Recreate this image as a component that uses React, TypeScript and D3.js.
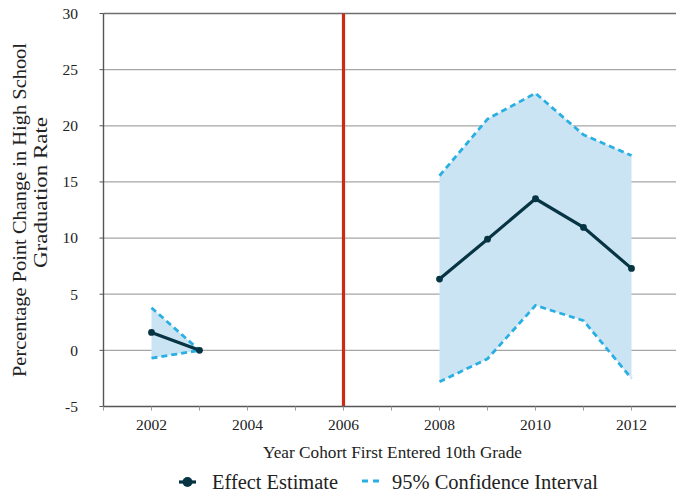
import React from "react";
import * as d3 from "d3";

const years = [2002, 2003, 2008, 2009, 2010, 2011, 2012];
const effect = [1.6, 0.0, 6.35, 9.9, 13.5, 10.95, 7.3];
const upperCI = [3.8, 0.0, 15.55, 20.6, 22.9, 19.2, 17.35];
const lowerCI = [-0.7, 0.0, -2.8, -0.75, 4.0, 2.65, -2.5];
const yTicks = [-5, 0, 5, 10, 15, 20, 25, 30];
const xLabelYears = [2002, 2004, 2006, 2008, 2010, 2012];
const xMinorYears = [2001, 2002, 2003, 2004, 2005, 2006, 2007, 2008, 2009, 2010, 2011, 2012, 2013];
const policyYear = 2006;
const segments = [[0, 1], [2, 6]];

const W = 676, H = 494;
const FONT = "'Liberation Serif', 'DejaVu Serif', serif";

export default function App() {
  const x = d3.scaleLinear().domain([2001, 2013]).range([103.5, 679.5]);
  const y = d3.scaleLinear().domain([-5, 30]).range([406.5, 13.5]);
  const left = 103.5, right = W, top = 13.5, bottom = 406.5;

  const area = d3.area<number>().x((i) => x(years[i])).y0((i) => y(lowerCI[i])).y1((i) => y(upperCI[i]));
  const line = (arr: number[]) => d3.line<number>().x((i) => x(years[i])).y((i) => y(arr[i]));

  const idx = (s: number[]) => d3.range(s[0], s[1] + 1);

  return (
    <svg width={W} height={H} style={{ display: "block", position: "absolute", left: 0, top: 0, background: "#fff" }}>
      {/* gridlines */}
      {yTicks.filter((t) => t !== 30 && t !== -5).map((t) => (
        <line key={t} x1={left} x2={right} y1={y(t)} y2={y(t)} stroke="#a6a6a6" strokeWidth={1.2} />
      ))}
      <line x1={left} x2={right} y1={y(30)} y2={y(30)} stroke="#6e6e6e" strokeWidth={1.6} />
      {/* CI areas */}
      {segments.map((s, k) => (
        <path key={"a" + k} d={area(idx(s)) || ""} fill="#cbe4f4" />
      ))}
      {/* red policy line */}
      <line x1={x(policyYear)} x2={x(policyYear)} y1={top} y2={bottom} stroke="#cc2b12" strokeWidth={3.2} />
      {/* CI dashed lines */}
      {segments.map((s, k) => (
        <g key={"c" + k}>
          <path d={line(upperCI)(idx(s)) || ""} fill="none" stroke="#2aafe2" strokeWidth={2.8} strokeDasharray="6,4" />
          <path d={line(lowerCI)(idx(s)) || ""} fill="none" stroke="#2aafe2" strokeWidth={2.8} strokeDasharray="6,4" />
        </g>
      ))}
      {/* effect lines */}
      {segments.map((s, k) => (
        <g key={"e" + k}>
          <path d={line(effect)(idx(s)) || ""} fill="none" stroke="#073442" strokeWidth={3.2} />
          {idx(s).map((i) => (
            <circle key={i} cx={x(years[i])} cy={y(effect[i])} r={3.4} fill="#073442" />
          ))}
        </g>
      ))}
      {/* axes */}
      <line x1={left} x2={left} y1={top} y2={bottom} stroke="#555" strokeWidth={1.4} />
      <line x1={left} x2={right} y1={bottom} y2={bottom} stroke="#555" strokeWidth={1.6} />
      {yTicks.map((t) => (
        <g key={"yt" + t}>
          <line x1={left - 4} x2={left} y1={y(t)} y2={y(t)} stroke="#555" strokeWidth={1} />
          <text x={78} y={y(t)} dy="0.35em" textAnchor="end" fontFamily={FONT} fontSize={15.5} fill="#222">{t}</text>
        </g>
      ))}
      {xMinorYears.map((yr) => (
        <line key={"xm" + yr} x1={x(yr)} x2={x(yr)} y1={bottom} y2={bottom + 4} stroke="#999" strokeWidth={1} />
      ))}
      {xLabelYears.map((yr) => (
        <text key={"xl" + yr} x={x(yr)} y={430} textAnchor="middle" fontFamily={FONT} fontSize={15.5} fill="#222">{yr}</text>
      ))}
      <text x={392.5} y={458} textAnchor="middle" fontFamily={FONT} fontSize={16.5} fill="#222" textLength={259} lengthAdjust="spacingAndGlyphs">Year Cohort First Entered 10th Grade</text>
      <g transform="rotate(-90)">
        <text x={-210} y={26} textAnchor="middle" fontFamily={FONT} fontSize={19.5} fill="#222" textLength={334} lengthAdjust="spacingAndGlyphs">Percentage Point Change in High School</text>
        <text x={-192.5} y={47} textAnchor="middle" fontFamily={FONT} fontSize={19.5} fill="#222" textLength={151} lengthAdjust="spacingAndGlyphs">Graduation Rate</text>
      </g>
      {/* legend */}
      <line x1={179} x2={196} y1={482} y2={482} stroke="#073442" strokeWidth={3.2} />
      <circle cx={187.5} cy={482} r={5} fill="#073442" />
      <text x={212} y={489} fontFamily={FONT} fontSize={20.5} fill="#222" textLength={126} lengthAdjust="spacingAndGlyphs">Effect Estimate</text>
      <line x1={362} x2={379} y1={481} y2={481} stroke="#2aafe2" strokeWidth={3} strokeDasharray="6,5" />
      <text x={392} y={489} fontFamily={FONT} fontSize={20.5} fill="#222" textLength={206} lengthAdjust="spacingAndGlyphs">95% Confidence Interval</text>
    </svg>
  );
}
